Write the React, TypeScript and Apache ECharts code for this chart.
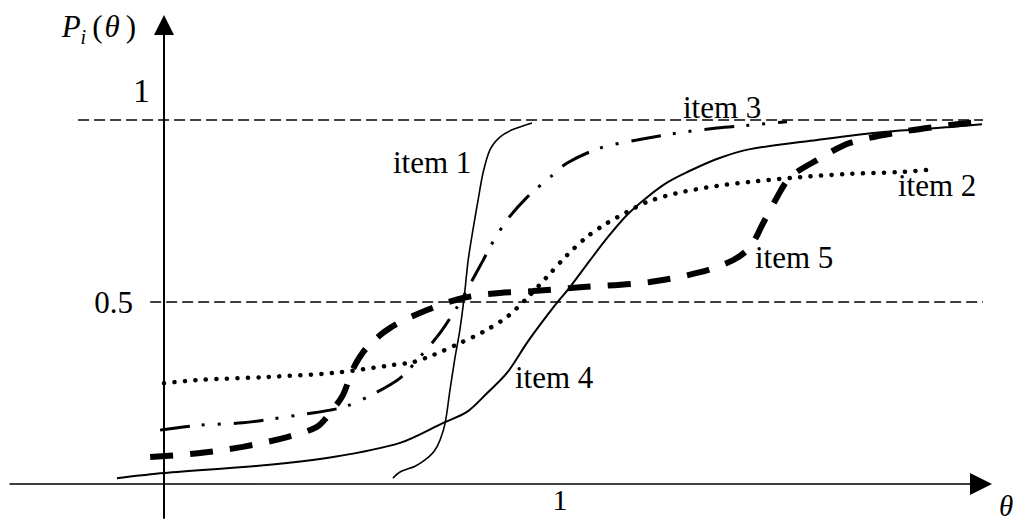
import React, { useEffect, useRef } from "react";
import * as echarts from "echarts";

// ---- data (theta, P(theta)) ----
const item1Theta = [0.578, 0.596, 0.634, 0.659, 0.682, 0.697, 0.71, 0.722, 0.735, 0.747, 0.758, 0.768, 0.78, 0.793, 0.806, 0.823, 0.848, 0.879, 0.929];
const item1P = [0.016, 0.033, 0.049, 0.066, 0.09, 0.121, 0.168, 0.258, 0.349, 0.423, 0.514, 0.615, 0.698, 0.78, 0.857, 0.918, 0.953, 0.973, 0.992];

const item2Theta = [0.0, 0.091, 0.26, 0.427, 0.578, 0.629, 0.679, 0.747, 0.806, 0.866, 0.917, 0.967, 1.018, 1.068, 1.119, 1.169, 1.22, 1.295, 1.396, 1.48, 1.606, 1.732, 1.859, 1.927];
const item2P = [0.277, 0.286, 0.294, 0.305, 0.327, 0.335, 0.354, 0.387, 0.418, 0.459, 0.511, 0.569, 0.629, 0.679, 0.717, 0.747, 0.775, 0.799, 0.819, 0.83, 0.843, 0.852, 0.857, 0.863];

const item3Theta = [-0.01, 0.091, 0.199, 0.343, 0.419, 0.462, 0.528, 0.596, 0.646, 0.697, 0.74, 0.755, 0.806, 0.823, 0.866, 0.917, 0.975, 1.018, 1.101, 1.194, 1.295, 1.396, 1.48, 1.573];
const item3P = [0.148, 0.162, 0.168, 0.19, 0.203, 0.214, 0.247, 0.291, 0.349, 0.415, 0.486, 0.514, 0.615, 0.651, 0.725, 0.788, 0.843, 0.882, 0.923, 0.945, 0.964, 0.978, 0.986, 0.995];

const item4Theta = [-0.119, 0.0, 0.26, 0.427, 0.596, 0.705, 0.765, 0.816, 0.866, 0.919, 0.982, 1.025, 1.076, 1.119, 1.169, 1.22, 1.27, 1.321, 1.396, 1.48, 1.649, 1.816, 1.985, 2.104];
const item4P = [0.016, 0.03, 0.052, 0.074, 0.113, 0.168, 0.198, 0.25, 0.305, 0.392, 0.484, 0.541, 0.615, 0.676, 0.739, 0.788, 0.828, 0.857, 0.893, 0.92, 0.945, 0.967, 0.981, 0.992];

const item5Theta = [-0.035, 0.091, 0.199, 0.311, 0.386, 0.419, 0.452, 0.477, 0.513, 0.571, 0.664, 0.755, 0.848, 0.932, 1.058, 1.227, 1.354, 1.437, 1.48, 1.513, 1.548, 1.581, 1.649, 1.732, 1.859, 1.985, 2.111];
const item5P = [0.074, 0.085, 0.102, 0.129, 0.157, 0.195, 0.245, 0.316, 0.376, 0.429, 0.478, 0.511, 0.525, 0.53, 0.541, 0.555, 0.582, 0.615, 0.651, 0.717, 0.788, 0.843, 0.89, 0.937, 0.967, 0.986, 1.0];

// reference lines
const refLevels = [1, 0.5];
const refStart = [-0.217, -0.035];
const refEnd = [2.152, 2.098];

const itemNames = ["item 1", "item 2", "item 3", "item 4", "item 5"];
const yTickValues = [0.5, 1];
const xTickValues = [1];

const SERIF = "Liberation Serif";

const zip = (xs: number[], ys: number[]) => xs.map((x, i) => [x, ys[i]]);

export default function App() {
  const ref = useRef<HTMLDivElement>(null);

  useEffect(() => {
    if (!ref.current) return;
    const chart = echarts.init(ref.current, null, { renderer: "svg" });

    const curve = (name: string, xs: number[], ys: number[], lineStyle: any) => ({
      name,
      type: "line",
      data: zip(xs, ys),
      showSymbol: false,
      symbol: "none",
      smooth: 0.3,
      clip: false,
      silent: true,
      lineStyle: { color: "#000", ...lineStyle },
      z: 3,
    });

    const refSeries = refLevels.map((lv, i) => ({
      name: "ref" + lv,
      type: "line",
      data: [
        [refStart[i], lv],
        [refEnd[i], lv],
      ],
      showSymbol: false,
      symbol: "none",
      clip: false,
      silent: true,
      lineStyle: { color: "#000", width: 1.4, type: [11, 5] },
      z: 2,
    }));

    const labelText = (text: string, x: number, y: number) => ({
      type: "text",
      x,
      y,
      style: {
        text,
        fontFamily: SERIF,
        fontSize: 31,
        fill: "#000",
        align: "left",
        verticalAlign: "middle",
      },
      z: 10,
    });

    chart.setOption({
      animation: false,
      backgroundColor: "#fff",
      textStyle: { fontFamily: SERIF },
      grid: {
        left: 10,
        right: 35,
        top: 25,
        bottom: 5,
        containLabel: false,
        outerBoundsMode: "none",
      },
      xAxis: {
        type: "value",
        min: -0.389,
        max: 2.063,
        offset: -34,
        splitLine: { show: false },
        axisTick: { show: false },
        axisLine: {
          onZero: false,
          symbol: ["none", "triangle"],
          symbolSize: [22, 22],
          lineStyle: { color: "#000", width: 1.5 },
        },
        axisLabel: {
          customValues: xTickValues,
          formatter: (v: number) => String(v),
          fontFamily: SERIF,
          fontSize: 30,
          color: "#000",
          margin: 0,
        },
        name: "{t|θ}",
        nameLocation: "end",
        nameGap: 18,
        nameMoveOverlap: false,
        nameTextStyle: {
          align: "left",
          verticalAlign: "middle",
          rich: {
            t: { fontFamily: SERIF, fontStyle: "italic", fontSize: 29, color: "#000", padding: [44, 0, 0, 0] },
          },
        },
      },
      yAxis: {
        type: "value",
        min: -0.0934,
        max: 1.261,
        offset: -154,
        splitLine: { show: false },
        axisTick: { show: false },
        axisLine: {
          onZero: false,
          symbol: ["none", "triangle"],
          symbolSize: [20, 20],
          lineStyle: { color: "#000", width: 2 },
        },
        axisLabel: {
          customValues: yTickValues,
          formatter: (v: number) => (v === 1 ? "{a|1}" : "{b|0.5}"),
          margin: 8,
          rich: {
            a: { fontFamily: SERIF, fontSize: 34, color: "#000", padding: [0, 6, 60, 0] },
            b: { fontFamily: SERIF, fontSize: 31, color: "#000", padding: [0, 23, 0, 0] },
          },
        },
        name: "{p|P}{i|i}{b|(}{t|θ}{c|)}",
        nameLocation: "end",
        nameGap: -1,
        nameMoveOverlap: false,
        nameTextStyle: {
          align: "right",
          verticalAlign: "middle",
          padding: [0, 28, 0, 0],
          rich: {
            p: { fontFamily: SERIF, fontStyle: "italic", fontSize: 31, color: "#000" },
            i: { fontFamily: SERIF, fontStyle: "italic", fontSize: 20, color: "#000", padding: [22, 0, 0, 0] },
            b: { fontFamily: SERIF, fontSize: 31, color: "#000", padding: [0, 1, 0, 6] },
            t: { fontFamily: SERIF, fontStyle: "italic", fontSize: 31, color: "#000", padding: [0, 6, 0, 1] },
            c: { fontFamily: SERIF, fontSize: 31, color: "#000" },
          },
        },
      },
      graphic: [
        labelText(itemNames[0], 393, 162),
        labelText(itemNames[2], 683, 107),
        labelText(itemNames[1], 898, 185),
        labelText(itemNames[4], 755, 257),
        labelText(itemNames[3], 515, 377),
      ],
      series: [
        ...refSeries,
        curve(itemNames[0], item1Theta, item1P, { width: 1.6, type: "solid" }),
        curve(itemNames[1], item2Theta, item2P, { width: 4.5, type: [0.1, 10.4], cap: "round" }),
        curve(itemNames[2], item3Theta, item3P, { width: 3, type: [30, 12, 3, 13, 3, 13] }),
        curve(itemNames[3], item4Theta, item4P, { width: 2, type: "solid" }),
        curve(itemNames[4], item5Theta, item5P, { width: 6, type: [23, 17] }),
      ],
    });

    return () => chart.dispose();
  }, []);

  return (
    <div
      ref={ref}
      style={{ position: "fixed", left: 0, top: 0, width: 1016, height: 523 }}
    />
  );
}
